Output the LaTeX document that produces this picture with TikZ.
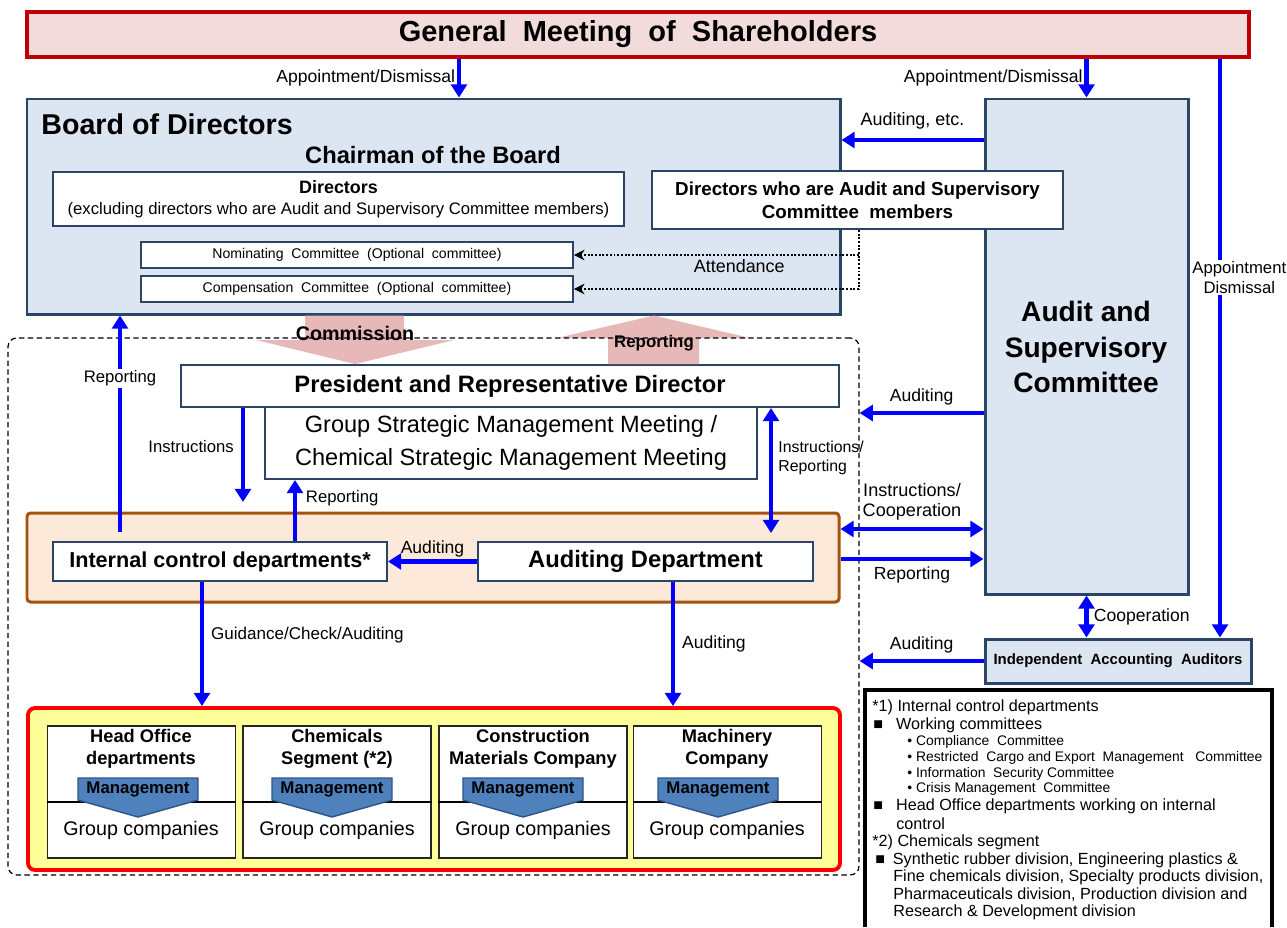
\documentclass[tikz,border=0pt]{standalone}
\usepackage{fontspec}
\setmainfont{Liberation Sans}
\usetikzlibrary{arrows.meta}
\definecolor{bordnavy}{HTML}{2A4566}
\definecolor{paleblue}{HTML}{DCE6F2}
\definecolor{gmpink}{HTML}{F2DCDB}
\definecolor{gmred}{HTML}{C00000}
\definecolor{orgfill}{HTML}{FDE9D9}
\definecolor{orgline}{HTML}{A5520F}
\definecolor{yelfill}{HTML}{FFFF99}
\definecolor{bigpink}{HTML}{E6B9B8}
\definecolor{mgmtblue}{HTML}{4F81BD}
\definecolor{mgmtline}{HTML}{2F5588}

\begin{document}
\begin{tikzpicture}[x=0.02cm,y=-0.02cm,
    sz/.style 2 args={minimum width=#1*0.02cm,minimum height=#2*0.02cm},
    box/.style={draw=bordnavy,line width=1.1pt,fill=white,inner sep=0pt},
    bluebox/.style={draw=bordnavy,line width=1.7pt,fill=paleblue,inner sep=0pt},
    seg/.style={draw=black!85,line width=1pt,fill=white,inner sep=0pt,sz={188}{132}},
    segtitle/.style={align=center,font=\fontsize{10.4}{12.5}\bfseries},
    grp/.style={font=\fontsize{11.2}{13}\selectfont},
    mgmt/.style={fill=mgmtblue,draw=mgmtline,line width=0.8pt},
    mgtext/.style={inner sep=0pt,font=\fontsize{9.6}{11}\bfseries},
    barrow/.style={draw=blue,line width=2.5pt,-{Triangle[width=9pt,length=7.5pt]}},
    dbarrow/.style={barrow,{Triangle[width=9pt,length=7.5pt]}-{Triangle[width=9pt,length=7.5pt]}},
    att/.style={densely dotted,line width=1.1pt,-{Stealth[length=6pt,width=6pt]}},
    lbl/.style={inner sep=1pt,font=\fontsize{9.5}{11}\selectfont},
    note/.style={anchor=west,inner sep=0pt,font=\fontsize{9.2}{11}\selectfont},
    subnote/.style={note,font=\fontsize{7.9}{9}\selectfont}]
  \useasboundingbox (0,0) rectangle (1287,927);

  %% Shareholders and board
  \node[sz={1222}{45},inner sep=0pt,draw=gmred,line width=1.8pt,fill=gmpink,font=\fontsize{16.5}{20}\bfseries] (gm) at (638,34.5) {General\ \ Meeting\ \ of\ \ Shareholders};
  \node[sz={813}{215},bluebox] (board) at (433.5,206.5) {};
  \node[anchor=west,inner sep=0pt,font=\fontsize{16.3}{19}\bfseries] (boardtitle) at (41,124) {Board of Directors};
  \node[font=\fontsize{13.5}{16}\bfseries] (chair) at (433,155) {Chairman of the Board};
  \node[sz={571}{54},box,align=center,font=\fontsize{9.5}{12}\selectfont] (dirs) at (338.5,199) {{\fontsize{10.2}{12}\bfseries Directors}\\(excluding directors who are Audit and Supervisory Committee members)};
  \node[sz={432}{26},box,font=\fontsize{8}{10}\selectfont] (nom) at (357,255) {Nominating\ \ Committee\ \ (Optional\ \ committee)};
  \node[sz={432}{26},box,font=\fontsize{8}{10}\selectfont] (comp) at (357,289) {Compensation\ \ Committee\ \ (Optional\ \ committee)};

  %% Audit side
  \node[sz={203}{495},bluebox] (asc) at (1086.5,346.5) {};
  \node[align=center,font=\fontsize{16}{20}\bfseries] (asctext) at (1086,347) {Audit and\\Supervisory\\Committee};
  \node[sz={411}{58},box,align=center,font=\fontsize{10.7}{13}\bfseries] (dac) at (857.5,200) {Directors who are Audit and Supervisory\\Committee\ \ members};
  \node[sz={266}{44},bluebox,font=\fontsize{8.5}{10}\bfseries] (iaa) at (1118,661) {Independent\ \ Accounting\ \ Auditors};

  %% Executive part
  \node[sz={658}{42},box,font=\fontsize{13.5}{16}\bfseries] (pres) at (510,386) {President and Representative Director};
  \node[sz={492}{72},box,align=center,font=\fontsize{13.4}{18.7}\selectfont] (gsm) at (511,443) {Group Strategic Management Meeting /\\Chemical Strategic Management Meeting};
  \node[sz={812}{89},inner sep=0pt,draw=orgline,line width=1.7pt,fill=orgfill,rounded corners=2pt] (ctrl) at (433,557.5) {};
  \node[sz={334}{39},box,font=\fontsize{12.3}{14}\bfseries] (icd) at (220,561.5) {Internal control departments*};
  \node[sz={335}{39},box,font=\fontsize{13.5}{16}\bfseries] (aud) at (645.5,561.5) {Auditing Department};

  %% Commission / Reporting
  \fill[bigpink] (board.south -| 305,0) -- (board.south -| 404,0) -- (404,340) -- (454,340) -- (pres.north -| 355,0) -- (256,340) -- (305,340) -- cycle;
  \fill[bigpink] (pres.north -| 608,0) -- (608,338) -- (557,338) -- (board.south -| 654,0) -- (750,338) -- (699,338) -- (pres.north -| 699,0) -- cycle;
  \node[sz={851}{537},inner sep=0pt,draw,dash pattern=on 3pt off 2pt,line width=0.7pt,rounded corners=5pt] (exec) at (433.5,606.5) {};
  \node[font=\fontsize{11.2}{13}\bfseries] (comm) at (355,333) {Commission};
  \node[font=\fontsize{9.6}{11}\bfseries] (repo) at (654,343) {Reporting};

  %% Business segments
  \node[sz={812}{162},inner sep=0pt,draw=red,line width=2.2pt,fill=yelfill,rounded corners=4pt] (ops) at (434,789) {};
  \node[seg] (seg1) at (141.5,792) {};
  \node[seg] (seg2) at (337,792) {};
  \node[seg] (seg3) at (533,792) {};
  \node[seg] (seg4) at (727.5,792) {};
  \draw[line width=1pt] (seg1.west |- 0,802) -- (seg1.east |- 0,802);
  \draw[line width=1pt] (seg2.west |- 0,802) -- (seg2.east |- 0,802);
  \draw[line width=1pt] (seg3.west |- 0,802) -- (seg3.east |- 0,802);
  \draw[line width=1pt] (seg4.west |- 0,802) -- (seg4.east |- 0,802);
  \node[segtitle] (t1) at (141,749) {Head Office\\departments};
  \node[segtitle] (t2) at (337,749) {Chemicals\\Segment (*2)};
  \node[segtitle] (t3) at (533,749) {Construction\\Materials Company};
  \node[segtitle] (t4) at (727,749) {Machinery\\Company};
  \draw[mgmt] (78,778) -- (198,778) -- (198,800) -- (138,817) -- (78,800) -- cycle;
  \draw[mgmt] (272,778) -- (392,778) -- (392,800) -- (332,817) -- (272,800) -- cycle;
  \draw[mgmt] (463,778) -- (583,778) -- (583,800) -- (523,817) -- (463,800) -- cycle;
  \draw[mgmt] (658,778) -- (778,778) -- (778,800) -- (718,817) -- (658,800) -- cycle;
  \node[mgtext] (m1) at (138,789) {Management};
  \node[mgtext] (m2) at (332,789) {Management};
  \node[mgtext] (m3) at (523,789) {Management};
  \node[mgtext] (m4) at (718,789) {Management};
  \node[grp] (g1) at (141,830) {Group companies};
  \node[grp] (g2) at (337,830) {Group companies};
  \node[grp] (g3) at (533,830) {Group companies};
  \node[grp] (g4) at (727,830) {Group companies};

  %% Appointment arrows
  \draw[barrow] (gm.south -| 459,0) -- node[left,lbl,font=\fontsize{10}{12}\selectfont] {Appointment/Dismissal} (board.north -| 459,0);
  \draw[barrow] (gm.south -| asc.north) -- node[left,lbl,font=\fontsize{10}{12}\selectfont] {Appointment/Dismissal} (asc.north);
  \draw[barrow] (gm.south -| 1220,0) -- node[pos=0.378,fill=white,align=center,lbl,xshift=11pt] {Appointment\\Dismissal} (iaa.north -| 1220,0);

  %% Attendance
  \coordinate (attend) at (859,289);
  \draw[att] (dac.south -| attend) -- (attend) -- (comp);
  \draw[att] (attend |- nom) -- node[pos=0.42,below=1pt,lbl,font=\fontsize{10.2}{12}\selectfont] {Attendance} (nom);

  %% Horizontal arrows
  \draw[barrow] (asc.west |- 0,140) -- node[above=4pt,lbl,font=\fontsize{10.2}{12}\selectfont] {Auditing, etc.} (board.east |- 0,140);
  \draw[barrow] (asc.west |- 0,413) -- node[above=2pt,lbl,font=\fontsize{10}{12}\selectfont] {Auditing} (exec.east |- 0,413);
  \draw[dbarrow] (ctrl.east |- 0,529) -- node[above=3pt,align=center,lbl,font=\fontsize{10.3}{11}\selectfont] {Instructions/\\Cooperation} (asc.west |- 0,529);
  \draw[barrow] (ctrl.east |- 0,559) -- node[below=2pt,lbl,font=\fontsize{10}{12}\selectfont] {Reporting} (asc.west |- 0,559);
  \draw[barrow] (iaa.west) -- node[above=2pt,lbl,font=\fontsize{10}{12}\selectfont] {Auditing} (exec.east |- iaa.west);
  \draw[barrow] (aud.west) -- node[above,lbl,font=\fontsize{10}{12}\selectfont] {Auditing} (icd.east);

  %% Vertical arrows
  \draw[dbarrow] (asc.south) -- node[right=2pt,lbl,font=\fontsize{10}{12}\selectfont] {Cooperation} (iaa.north -| asc.south);
  \coordinate (rep) at (120,532);
  \draw[barrow] (rep) -- node[pos=0.71,fill=white,lbl] {Reporting} (board.south -| rep);
  \coordinate (ins) at (243,502);
  \draw[barrow] (pres.south -| ins) -- node[pos=0.41,left=3pt,lbl] {Instructions} (ins);
  \draw[barrow] (icd.north -| 295,0) -- node[pos=0.71,right=4pt,lbl] {Reporting} (gsm.south -| 295,0);
  \coordinate (ir) at (771,533);
  \draw[dbarrow] (pres.south -| ir) -- node[pos=0.4,right=2pt,align=left,lbl,font=\fontsize{9}{11}\selectfont] {Instructions/\\Reporting} (ir);
  \draw[barrow] (icd.south -| 202,0) -- node[pos=0.43,right=3pt,lbl,font=\fontsize{9.7}{12}\selectfont] {Guidance/Check/Auditing} (ops.north -| 202,0);
  \draw[barrow] (aud.south -| 673,0) -- node[right=3pt,lbl,font=\fontsize{10}{12}\selectfont] {Auditing} (ops.north -| 673,0);

  %% Notes
  \draw[line width=1.8pt] (865,927) -- (865,690) -- (1272,690) -- (1272,927);
  \node[note] (n1) at (872,707) {*1) Internal control departments};
  \node[note] (n2) at (873,725) {\makebox[13pt][l]{■}Working committees};
  \node[subnote] (n3) at (907,742) {• Compliance\ \ Committee};
  \node[subnote] (n4) at (907,758) {• Restricted\ \ Cargo and Export\ \ Management\ \ \ Committee};
  \node[subnote] (n5) at (907,774) {• Information\ \ Security Committee};
  \node[subnote] (n6) at (907,789) {• Crisis Management\ \ Committee};
  \node[note] (n7) at (873,806) {\makebox[13pt][l]{■}Head Office departments working on internal};
  \node[note] (n8) at (896,824) {control};
  \node[note] (n9) at (872,842) {*2) Chemicals segment};
  \node[note] (n10) at (875,860) {\makebox[10pt][l]{■}Synthetic rubber division, Engineering plastics \&};
  \node[note] (n11) at (893,877) {Fine chemicals division, Specialty products division,};
  \node[note] (n12) at (893,895) {Pharmaceuticals division, Production division and};
  \node[note] (n13) at (893,912) {Research \& Development division};
\end{tikzpicture}
\end{document}
